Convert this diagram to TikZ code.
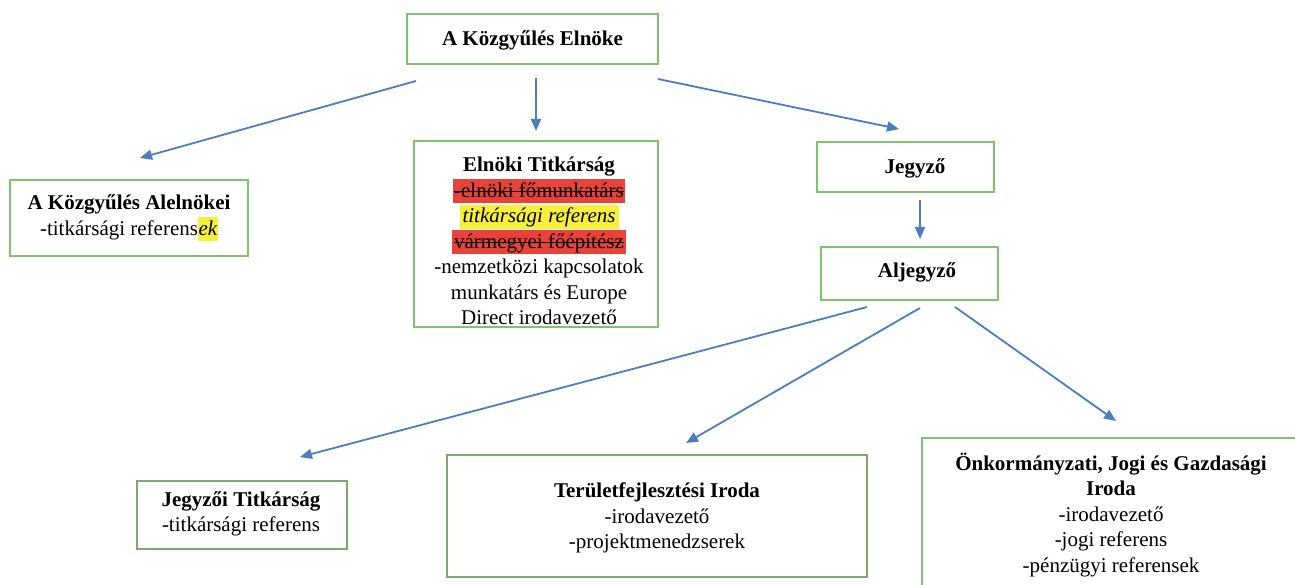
\documentclass[tikz,border=0pt]{standalone}
\usepackage{fontspec}
\setmainfont{Liberation Serif}
\usetikzlibrary{arrows.meta}
\definecolor{boxgreen}{RGB}{125,196,108}
\definecolor{boxdark}{RGB}{122,170,108}
\definecolor{arrowblue}{RGB}{74,126,192}
\definecolor{hlred}{RGB}{233,66,58}
\definecolor{hlyellow}{RGB}{246,240,58}
\newcommand\fs{\fontsize{21}{25.5}\selectfont}
\newcommand\strk[1]{\setbox0\hbox{#1}\rlap{\rule[0.27em]{\wd0}{1pt}}\box0}
\newcommand\hlbox[3]{{\setlength\fboxsep{0pt}\colorbox{#1}{\rule[-6pt]{0pt}{24pt}\hspace{#2}#3\hspace{#2}}}}
\tikzset{
  box/.style={draw=boxgreen, line width=2.2pt, inner sep=0pt},
  darkbox/.style={box, draw=boxdark},
  txt/.style={align=center, inner sep=0pt, font=\fs, text=black},
  conn/.style={draw=arrowblue, line width=1.8pt, -{Triangle[length=12pt,width=10pt]}},
}
\begin{document}
\begin{tikzpicture}[x=1pt,y=-1pt]
\useasboundingbox[fill=white] (0,0) rectangle (1295,585);

% boxes
\node[box, minimum width=251pt, minimum height=50pt] (elnok) at (532.5,39) {};
\node[txt] (elnoktext) at (532.5,40) {\textbf{A Közgyűlés Elnöke}};

\node[box, minimum width=238pt, minimum height=76pt] (alelnok) at (129,218) {};
\node[txt] (alelnoktext) at (129,218) {\textbf{A Közgyűlés Alelnökei}\\-titkársági referens\hlbox{hlyellow}{0.5pt}{\textit{ek}}};

\begin{scope}
\clip (414,141) rectangle (658,327);
\node[txt] (eltittext) at (539,241) {\textbf{Elnöki Titkárság}\\
\hlbox{hlred}{1.5pt}{\strk{-elnöki főmunkatárs}}\\
\hlbox{hlyellow}{3pt}{\textit{titkársági referens}}\\
\hlbox{hlred}{2.5pt}{\strk{vármegyei főépítész}}\\
-nemzetközi kapcsolatok\\munkatárs és Europe\\Direct irodavezető};
\end{scope}
\node[box, minimum width=244pt, minimum height=186pt] (eltit) at (536,234) {};

\node[box, minimum width=177pt, minimum height=50pt] (jegyzo) at (905.5,167) {};
\node[txt] (jegyzotext) at (915,168) {\textbf{Jegyző}};

\node[box, minimum width=177pt, minimum height=53pt] (aljegyzo) at (909.5,273.5) {};
\node[txt] (aljegyzotext) at (917,272) {\textbf{Aljegyző}};

\node[darkbox, minimum width=210pt, minimum height=68pt] (jtit) at (242,515) {};
\node[txt] (jtittext) at (241,514) {\textbf{Jegyzői Titkárság}\\-titkársági referens};

\node[darkbox, minimum width=420pt, minimum height=122pt] (terulet) at (657,516) {};
\node[txt] (terulettext) at (657,518) {\textbf{Területfejlesztési Iroda}\\-irodavezető\\-projektmenedzserek};

\node[box, minimum width=378pt, minimum height=152pt] (onk) at (1111,514) {};
\node[txt] (onktext) at (1111,515) {\textbf{Önkormányzati, Jogi és Gazdasági}\\\textbf{Iroda}\\-irodavezető\\-jogi referens\\-pénzügyi referensek};

% connector ends
\coordinate (e1s) at (416,81);   \coordinate (e1e) at (140,158);
\coordinate (e2s) at (536,78);   \coordinate (e2e) at (536,131);
\coordinate (e3s) at (658,79);   \coordinate (e3e) at (899,129);
\coordinate (j1s) at (920,200);  \coordinate (j1e) at (920,239);
\coordinate (a1s) at (867,307);  \coordinate (a1e) at (300,457);
\coordinate (a2s) at (920,308);  \coordinate (a2e) at (686,443);
\coordinate (a3s) at (955,307);  \coordinate (a3e) at (1116,421);

\draw[conn] (e1s) -- (e1e);
\draw[conn] (e2s) -- (e2e);
\draw[conn] (e3s) -- (e3e);
\draw[conn] (j1s) -- (j1e);
\draw[conn] (a1s) -- (a1e);
\draw[conn] (a2s) -- (a2e);
\draw[conn] (a3s) -- (a3e);
\end{tikzpicture}
\end{document}
